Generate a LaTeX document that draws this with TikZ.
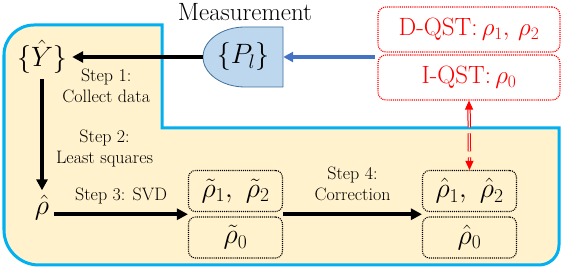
\RequirePackage{fix-cm}
\documentclass[tikz,border=0pt]{standalone}
\usepackage{tikz}
\usetikzlibrary{arrows.meta, calc}
\usepackage{xcolor}

\definecolor{frameblue}{RGB}{0,176,240}
\definecolor{regionfill}{RGB}{255,242,204}
\definecolor{measfill}{RGB}{189,215,238}
\definecolor{measline}{RGB}{65,113,156}
\definecolor{feedblue}{RGB}{68,114,196}

\begin{document}
\begin{tikzpicture}[
  x=10pt, y=10pt,
  mathnode/.style={inner sep=5pt, font=\fontsize{28}{30}\selectfont},
  statebox/.style={draw, densely dotted, line width=1.1pt, rounded corners=7pt,
                   minimum width=94pt, minimum height=41pt, inner sep=0pt,
                   font=\fontsize{28}{30}\selectfont},
  qstbox/.style={draw=red, densely dotted, line width=1.1pt, rounded corners=8pt,
                 minimum width=182pt, minimum height=45pt, inner sep=0pt,
                 text=red, font=\fontsize{25}{27}\selectfont},
  steplabel/.style={align=center, font=\fontsize{18}{21}\selectfont},
  flow/.style={-{Triangle[length=11pt, width=11pt]}, line width=3.5pt},
  feed/.style={-{Triangle[length=10pt, width=10pt]}, line width=3.2pt, feedblue},
  qstlink/.style={{Triangle[length=9pt, width=8pt]}-{Triangle[length=9pt, width=8pt]},
                  red, line width=1pt, double=red!8, double distance=1.3pt,
                  dash pattern=on 18pt off 6pt}
]
\useasboundingbox (0,0) rectangle (56.5,27);

%% working region
\draw[frameblue, line width=3pt, fill=regionfill]
  (16.2,24.5) -- (16.2,14.2) -- (55.9,14.2) -- (55.9,2.5)
  arc[start angle=0, end angle=-90, radius=2] -- (3.9,0.5)
  arc[start angle=270, end angle=180, radius=3.5] -- (0.4,21.5)
  arc[start angle=180, end angle=90, radius=3] -- cycle;

%% measurement device
\draw[measline, fill=measfill, line width=0.8pt] (28.3,24.3) -- (24.5,24.3)
  arc[start angle=90, end angle=270, x radius=4.2, y radius=3] -- (28.3,18.3) -- cycle;
\node[mathnode, minimum width=80pt, minimum height=60pt, inner sep=0pt]
      (meas) at (24.3,21.3) {$\{P_l\}$};
\node[font=\fontsize{25}{27}\selectfont] (meastitle) at (24.5,25.8) {Measurement};

\node[mathnode] (yset)   at (4.2,21.3) {$\{\hat{Y}\}$};
\node[mathnode] (rhohat) at (4.2,6.2)  {$\hat{\rho}$};

\node[statebox] (t12) at (23.55,7.9)  {$\tilde{\rho}_1,\ \tilde{\rho}_2$};
\node[statebox] (t0)  at (23.55,3.25) {$\tilde{\rho}_0$};
\node[statebox] (h12) at (46.95,7.9)  {$\hat{\rho}_1,\ \hat{\rho}_2$};
\node[statebox] (h0)  at (46.95,3.25) {$\hat{\rho}_0$};

\node[qstbox] (dqst) at (46.9,24.05) {D-QST:\,$\rho_1,\,\rho_2$};
\node[qstbox] (iqst) at (46.9,19.25) {I-QST:\,$\rho_0$};

\coordinate (qstin) at (37.5,21.3);
\coordinate (tin)   at ($(t12.south west)!0.5!(t0.north west)$);
\coordinate (tout)  at ($(t12.south east)!0.5!(t0.north east)$);
\coordinate (hin)   at ($(h12.south west)!0.5!(h0.north west)$);

\draw[feed] (qstin) -- (meas.east);
\draw[flow] (meas.west) --
            node[steplabel, below, pos=0.74, yshift=-7pt]{Step 1:\\Collect data} (yset.east);
\draw[flow] (yset.south) --
            node[steplabel, right=9pt, pos=0.62]{Step 2:\\Least squares} (rhohat.north);
\draw[flow] (rhohat.east |- tin) --
            node[steplabel, above, yshift=5pt]{Step 3: SVD} (tin);
\draw[flow] (tout) --
            node[steplabel, above, yshift=8pt]{Step 4:\\Correction} (hin);

%% link between the two schemes
\draw[qstlink] (iqst.south) -- (h12.north);

\end{tikzpicture}
\end{document}
